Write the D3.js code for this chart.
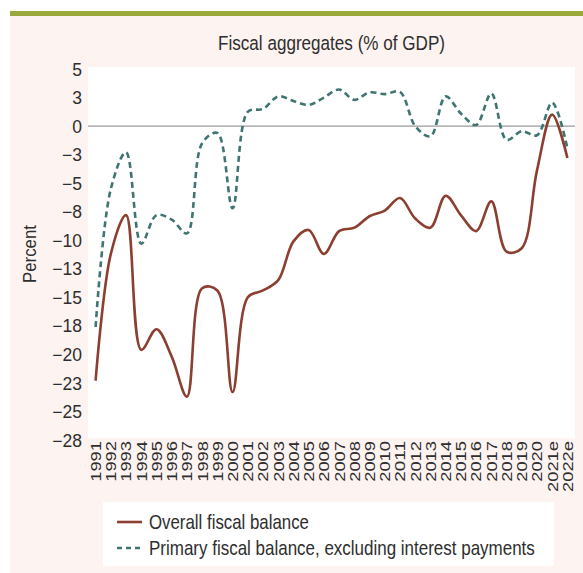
<!DOCTYPE html>
<html>
<head>
<meta charset="utf-8">
<script src="https://cdn.jsdelivr.net/npm/d3@7"></script>
<style>
  html, body { margin: 0; padding: 0; background: #ffffff; }
  svg { display: block; }
  text { font-family: "Liberation Sans", Arial, sans-serif; }
</style>
</head>
<body>
<svg id="chart" width="583" height="573"></svg>
<script>
// ---------------- data ----------------
const years = ["1991","1992","1993","1994","1995","1996","1997","1998","1999","2000",
  "2001","2002","2003","2004","2005","2006","2007","2008","2009","2010",
  "2011","2012","2013","2014","2015","2016","2017","2018","2019","2020","2021e","2022e"];

const overallBalance = [-22.3, -11.2, -7.8, -19.6, -17.8, -20.2, -23.7, -14.2, -14.4, -23.3,
  -15.0, -14.4, -13.5, -10.1, -9.1, -11.2, -9.2, -8.9, -7.9, -7.4,
  -6.3, -8.1, -8.9, -6.1, -7.8, -9.2, -6.6, -11.0, -10.7, -3.9, 1.0, -2.8];

const primaryBalance = [-17.6, -5.5, -2.3, -10.3, -7.8, -8.2, -9.4, -1.5, -0.6, -7.2,
  1.25, 1.5, 2.6, 2.2, 1.85, 2.5, 3.2, 2.3, 2.95, 2.8,
  3.0, 0.0, -0.9, 2.6, 1.1, 0.1, 2.85, -1.2, -0.45, -0.8, 2.05, -1.95];

const yTickValues = [5, 2.5, 0, -2.5, -5, -7.5, -10, -12.5, -15, -17.5, -20, -22.5, -25, -27.5];
const yTickLabels = ["5","3","0","−3","−5","−8","−10","−13","−15","−18","−20","−23","−25","−28"];

const seriesNames = ["Overall fiscal balance", "Primary fiscal balance, excluding interest payments"];
const titleText = "Fiscal aggregates (% of GDP)";
const yTitle = "Percent";

// ---------------- layout ----------------
const svg = d3.select("#chart");
const W = 583, H = 573;
const plot = { left: 88, right: 575, top: 67, bottom: 438 };
const colRed = "#8c3f30", colTeal = "#3e7572", txt = "#2e2e2e";

// squeeze/stretch a text along its direction to a target length via transform
function fitText(sel, target, baseTransform) {
  sel.each(function (d) {
    const t = d3.select(this);
    const w = this.getComputedTextLength();
    const L = typeof target === "function" ? target(d) : target;
    const k = L / w;
    t.attr("transform", `${baseTransform || ""} scale(${k},1)`);
  });
}

svg.append("rect").attr("x", 10).attr("y", 11).attr("width", W - 10).attr("height", 5).attr("fill", "#9aa83c");
svg.append("rect").attr("x", 10).attr("y", 16).attr("width", W - 10).attr("height", H - 16).attr("fill", "#fdf3f1");
svg.append("rect").attr("x", plot.left).attr("y", plot.top)
  .attr("width", plot.right - plot.left).attr("height", plot.bottom - plot.top).attr("fill", "#ffffff");

const x = d3.scalePoint().domain(years).range([plot.left, plot.right]).padding(0.5);
const y = d3.scaleLinear().domain([-27.5, 5]).range([440, 69]);

// title
const title = svg.append("text").attr("x", 0).attr("y", 0)
  .attr("text-anchor", "middle").attr("font-size", 19.5).attr("fill", txt).text(titleText);
fitText(title, 227, `translate(${(plot.left + plot.right) / 2},50)`);

// y axis (labels only)
const yAxis = d3.axisLeft(y).tickValues(yTickValues).tickSize(0).tickPadding(0)
  .tickFormat((d, i) => yTickLabels[i]);
const gy = svg.append("g").attr("transform", `translate(82,0)`).call(yAxis);
gy.select(".domain").remove();
gy.selectAll("text").attr("font-size", 17.5).attr("fill", txt)
  .style("font-family", '"Liberation Sans", Arial, sans-serif').attr("dy", "0.35em");

// y title
const yt = svg.append("text").attr("text-anchor", "middle").attr("font-size", 18).attr("fill", txt).text(yTitle);
fitText(yt, 58, `translate(36,254) rotate(-90)`);

// x axis labels
const xAxis = d3.axisBottom(x).tickSize(0).tickPadding(0);
const gx = svg.append("g").attr("transform", `translate(0,441)`).call(xAxis);
gx.select(".domain").remove();
gx.selectAll("text").attr("font-size", 14).attr("fill", txt)
  .style("font-family", '"Liberation Sans", Arial, sans-serif')
  .attr("text-anchor", "end").attr("x", 0).attr("y", 0).attr("dy", "0.35em")
  .call(s => fitText(s, d => d.length * 10.2, "rotate(-90)"));

// zero line
svg.append("line").attr("x1", plot.left).attr("x2", plot.right)
  .attr("y1", y(0)).attr("y2", y(0)).attr("stroke", "#9a9a9a").attr("stroke-width", 1.2);

// lines
const line = d3.line().x((d, i) => x(years[i])).y(d => y(d)).curve(d3.curveCatmullRom.alpha(0.5));
svg.append("path").datum(primaryBalance).attr("d", line).attr("fill", "none")
  .attr("stroke", colTeal).attr("stroke-width", 2.6).attr("stroke-dasharray", "6,4");
svg.append("path").datum(overallBalance).attr("d", line).attr("fill", "none")
  .attr("stroke", colRed).attr("stroke-width", 2.6);

// legend
const lg = svg.append("g");
lg.append("rect").attr("x", 103).attr("y", 502).attr("width", 451).attr("height", 64).attr("fill", "#ffffff");
const rows = [{ name: seriesNames[0], color: colRed, dash: null, cy: 522, len: 160 },
              { name: seriesNames[1], color: colTeal, dash: "5,4", cy: 548, len: 386 }];
rows.forEach(r => {
  lg.append("line").attr("x1", 117).attr("x2", 142).attr("y1", r.cy).attr("y2", r.cy)
    .attr("stroke", r.color).attr("stroke-width", 2.6).attr("stroke-dasharray", r.dash);
  const t = lg.append("text").attr("x", 0).attr("y", 0).attr("font-size", 20.5).attr("fill", txt).text(r.name);
  fitText(t, r.len, `translate(149,${r.cy + 7})`);
});
</script>
</body>
</html>
